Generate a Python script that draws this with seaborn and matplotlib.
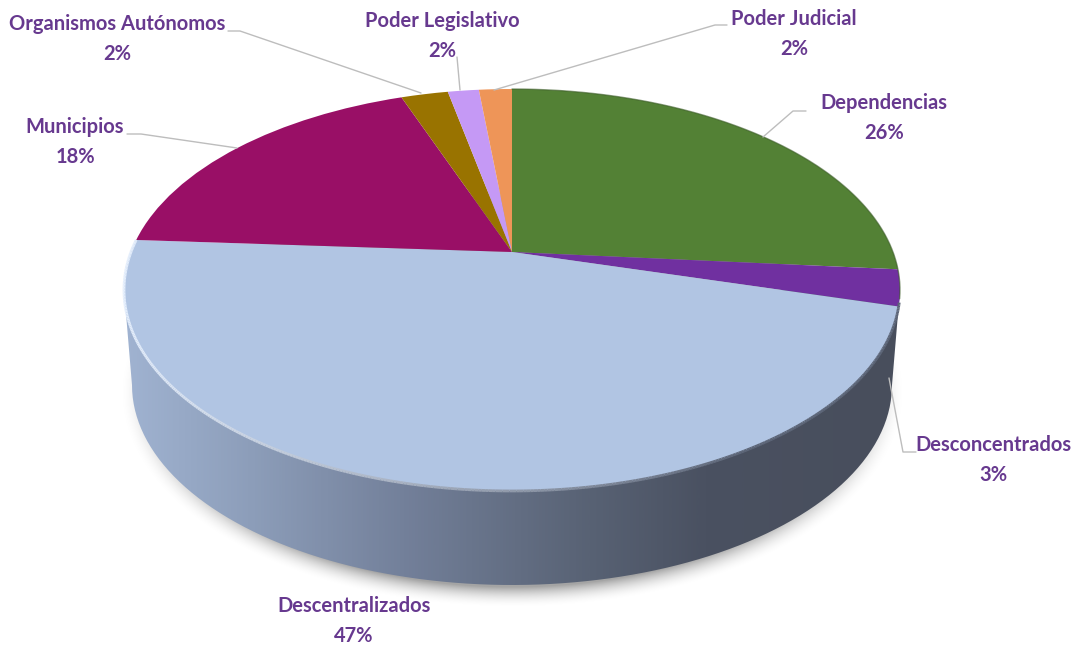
import numpy as np
import matplotlib
matplotlib.use('Agg')
import matplotlib.pyplot as plt
import seaborn as sns
from matplotlib.collections import LineCollection
from matplotlib.colors import LinearSegmentedColormap, to_rgb
from matplotlib.path import Path
from matplotlib.patches import PathPatch
from matplotlib.transforms import Transform

categories = ['Dependencias', 'Desconcentrados', 'Descentralizados', 'Municipios',
              'Organismos Autónomos', 'Poder Legislativo', 'Poder Judicial']
shares = [26.4, 2.9, 46.7, 18.45, 2.35, 1.55, 1.65]
slice_colors = ['#538135', '#7030a0', '#b1c5e3', '#990f66', '#997300', '#c599f5', '#ee9558']

sns.set_style('white')
plt.rcParams['font.family'] = ['Lato', 'DejaVu Sans']
TEXT = '#67398f'
LEADER = '#bdbdbd'

W, H = 1083, 645
# pie centre in pixels, and the tilt of the disc (apex sits above the ellipse centre)
CX, CY = 512, 252
A, B, K = 193.8, 381, 0.189


class Tilt(Transform):
    input_dims = 2
    output_dims = 2
    is_affine = False

    def transform_non_affine(self, xy):
        xy = np.asarray(xy)
        w = 1 + K * xy[:, 1]
        return np.column_stack((CX + B * xy[:, 0] / w, CY - A * xy[:, 1] / w))


fig = plt.figure(figsize=(W / 100, H / 100), dpi=100)
ax = fig.add_axes([0, 0, 1, 1])

# soft shadow under the disc
gx, gy = np.meshgrid(np.arange(W), np.arange(H))
d = np.sqrt(((gx - 512) / 394) ** 2 + ((gy - 392) / 216) ** 2)
shadow = np.zeros((H, W, 4))
shadow[..., 3] = 0.36 * np.clip((1.0 - d) / 0.1, 0, 1) ** 2
ax.imshow(shadow, extent=(0, W, H, 0), aspect='auto', zorder=1)

# side wall, horizontal shading clipped to the lower ellipse
wall_cmap = LinearSegmentedColormap.from_list('wall', [
    (0.0, '#a0b3d1'), (0.16, '#8d9eba'), (0.36, '#73809a'), (0.6, '#586274'),
    (0.75, '#4a5161'), (1.0, '#484e5c')])
grad = np.linspace(0, 1, 800).reshape(1, -1)
wall = ax.imshow(grad, extent=(124, 900, H, 0), cmap=wall_cmap, aspect='auto', zorder=2)
t = np.linspace(np.pi, 0, 200)
verts = np.column_stack((512 + 380 * np.cos(t), 385 + 200 * np.sin(t)))
verts = np.vstack(([[124, 290]], verts, [[900, 290]], [[124, 290]]))
clip = PathPatch(Path(verts), transform=ax.transData, fc='none', ec='none')
ax.add_patch(clip)
wall.set_clip_path(clip)

# top face
wedges, _ = ax.pie(shares, colors=sns.color_palette(slice_colors), startangle=90,
                   counterclock=False, radius=1, wedgeprops={'linewidth': 0})
tilt = Tilt()
for w in wedges:
    w.set_transform(tilt + ax.transData)
    w.set_zorder(3)
ax.set_aspect('auto')
ax.set_xlim(0, W)
ax.set_ylim(H, 0)
ax.axis('off')

# bevel along the front rim: bright on the left, dark on the right
ang = np.radians(np.linspace(176.4, 360 - 14.4, 400))
rim = tilt.transform(np.column_stack((np.cos(ang), np.sin(ang))))
segs = np.stack((rim[:-1], rim[1:]), axis=1)
mix = np.clip((rim[:-1, 0] - 124) / 620, 0, 1)[:, None]
rim_cols = (1 - mix) * np.array(to_rgb('#e4eefc')) + mix * np.array(to_rgb('#5d6678'))
ax.add_collection(LineCollection(segs, colors=rim_cols, linewidths=2.0, zorder=4))

ang = np.radians(np.linspace(-14.4, 90, 200))
rim = tilt.transform(np.column_stack((np.cos(ang), np.sin(ang))))
mask = rim[:, 1] < 300
ax.plot(rim[mask, 0], rim[mask, 1], color='#3a5a26', lw=1.0, alpha=0.6, zorder=4)

# labels and leader lines
label_xy = [(884, 118), (993, 460), (354, 621), (75, 142), (117, 39), (442, 36), (794, 34)]
leaders = [
    [(806, 111), (793, 111), (763, 137)],
    [(916, 452), (903, 452), (889, 378)],
    None,
    [(127, 134), (141, 134), (237, 148)],
    [(228, 31), (240, 31), (421, 93)],
    [(457, 57), (460, 90)],
    [(727, 25), (715, 25), (494, 90)],
]
for name, share, (x, y), leader in zip(categories, shares, label_xy, leaders):
    ax.text(x, y, f'{name}\n{share:.0f}%', ha='center', va='center', color=TEXT,
            fontsize=14.5, fontweight='bold', linespacing=1.62, zorder=6)
    if leader:
        lx, ly = zip(*leader)
        ax.plot(lx, ly, color=LEADER, lw=1.0, zorder=5)

fig.savefig('out.png', dpi=100, facecolor='white')
